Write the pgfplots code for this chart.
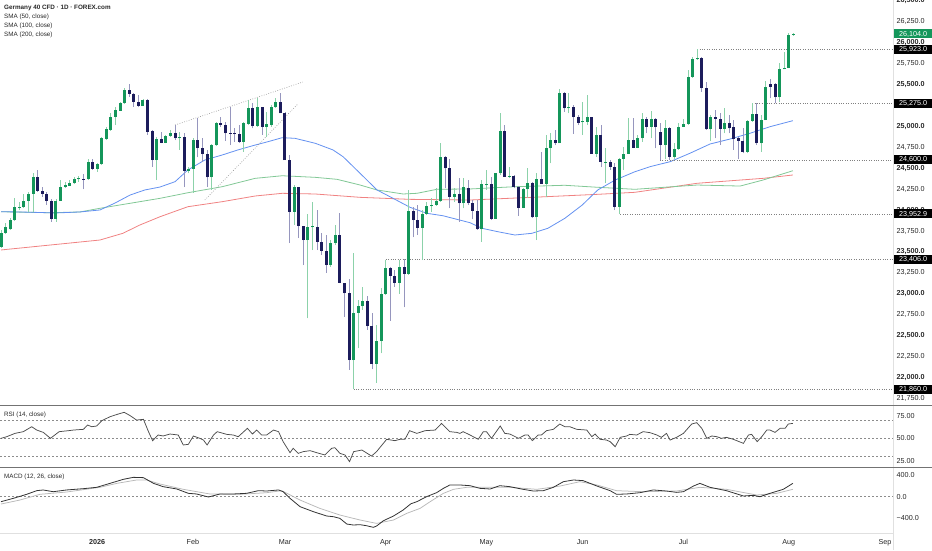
\documentclass[border=0pt]{standalone}
\usepackage{pgfplots}
\pgfplotsset{compat=1.18}
\usepackage{pgfplotstable}
\usepackage{fontspec}
\setmainfont{Liberation Sans}
\definecolor{cgreen}{RGB}{20,150,90}
\definecolor{cnavy}{RGB}{28,28,92}
\definecolor{wgreen}{RGB}{140,210,170}
\definecolor{wnavy}{RGB}{150,150,190}
\definecolor{sblue}{RGB}{100,145,240}
\definecolor{sgreen}{RGB}{130,200,150}
\definecolor{sred}{RGB}{240,130,130}
\definecolor{lbl}{RGB}{40,40,40}
\newcommand{\tf}{\fontsize{7.2}{8.5}\selectfont}
\newcommand{\smf}{\fontsize{6.3}{7.5}\selectfont}

\pgfplotstableread{
i o h l c
0 23562 23762 23546 23729
1 23729 23842 23714 23801
2 23770 23901 23762 23881
3 23881 24140 23869 24040
4 24028 24100 24000 24040
5 24033 24192 24024 24112
6 24112 24216 23980 24192
7 24192 24443 23980 24398
12 23897 24132 23861 24112
13 24112 24359 24108 24279
14 24272 24339 24263 24299
15 24291 24359 24287 24320
16 24320 24391 24311 24367
17 24367 24407 24339 24379
19 24367 24606 24359 24574
21 24494 24562 24458 24554
22 24550 24876 24538 24857
23 24849 24989 24837 24965
24 24957 25163 24945 25115
25 25115 25235 25016 25196
26 25187 25295 25183 25276
27 25276 25455 25267 25435
31 25247 25323 25243 25315
34 24598 24876 24359 24845
36 24805 24897 24798 24885
37 24885 24957 24876 24924
39 24857 24936 24718 24869
41 24467 24518 24439 24490
42 24490 24857 24207 24837
46 24391 24789 24240 24774
47 24774 25056 24765 25037
53 24817 25056 24697 25037
54 25028 25315 25016 25216
56 25004 25335 24992 25235
58 24996 25175 24876 25025
59 25016 25255 24996 25235
60 25228 25335 25219 25288
64 23980 24299 23821 24272
67 23642 23953 22706 23794
68 23794 24100 23522 23809
72 23343 23642 23323 23610
73 23610 23821 23582 23702
77 22208 23490 21860 22773
78 22773 22925 22348 22853
79 22853 23084 22806 22917
82 22160 22626 21937 22435
83 22435 23065 22288 22997
84 22997 23406 22985 23304
87 23132 23403 22997 23316
89 23236 24240 23224 23992
92 23785 24000 23403 23953
93 23953 24100 23941 24048
94 24048 24140 23980 24064
95 24060 24260 24048 24108
96 24108 24798 24100 24637
99 24159 24260 24100 24192
101 24081 24379 24021 24272
105 23770 24359 23622 24308
106 24299 24479 24240 24311
108 23897 24439 23893 24439
109 24439 25156 24419 24945
111 24398 24518 24379 24407
114 24028 24263 24021 24248
115 24248 24499 24140 24320
117 23913 24439 23642 24371
119 24311 24897 24159 24738
120 24738 24917 24559 24837
122 24798 25443 24798 25395
124 25216 25395 25156 25235
127 25049 25295 24897 25064
128 25056 25375 25016 25108
130 24670 24996 24637 24897
132 24566 24738 24320 24578
135 24040 24618 23953 24610
136 24610 24757 24479 24670
137 24670 25096 24670 24837
139 24745 24897 24738 24857
140 24857 25156 24817 25084
142 24996 25187 24857 25084
145 24777 25076 24605 24977
147 24637 24798 24610 24726
148 24726 25037 24718 24996
149 24996 25084 24992 25028
150 25028 25674 25016 25593
151 25593 25825 25578 25801
152 25801 25923 25793 25820
155 24965 25136 24829 25108
158 24972 25216 24917 25037
163 24697 25076 24678 25068
164 25068 25275 25056 25148
166 24798 25136 24697 25076
167 25076 25546 25076 25474
170 25347 25754 25295 25682
171 25682 25892 25682 25701
172 25701 26112 25701 26092
173 26092 26112 26080 26104
}\upc

\pgfplotstableread{
i o h l c
8 24398 24479 24216 24231
9 24231 24279 24159 24192
10 24192 24216 24060 24112
11 24112 24132 23861 23897
18 24371 24431 24248 24363
20 24574 24606 24479 24494
28 25435 25506 25354 25387
29 25387 25395 25235 25295
30 25295 25375 25228 25247
32 25315 25323 24897 24936
33 24945 24957 24518 24598
35 24849 24936 24798 24805
38 24924 25016 24837 24857
40 24876 24917 24275 24467
43 24837 25096 24630 24738
44 24738 24857 24578 24670
45 24670 24718 24279 24391
48 25037 25115 24996 25016
49 25016 25056 24829 24917
50 24924 25235 24777 24912
51 24917 24977 24817 24909
52 24905 25016 24805 24817
55 25216 25276 24977 25004
57 25235 25235 24897 24996
61 25288 25395 25156 25156
62 25163 25175 24598 24598
63 24598 24658 23606 23980
65 24272 24272 23666 23809
66 23809 23809 23343 23642
69 23801 24000 23522 23622
70 23622 23722 23463 23514
71 23514 23702 23251 23343
74 23702 23961 23124 23132
75 23132 23132 22725 23005
76 23005 23172 22089 22208
80 22917 22973 22567 22614
81 22614 22766 22097 22160
85 23304 23323 22678 23212
86 23212 23284 23084 23132
88 23316 23411 22838 23236
90 23992 24040 23674 23881
91 23881 24060 23702 23785
97 24637 24646 24260 24499
98 24499 24606 24021 24159
100 24192 24379 23861 24081
102 24260 24359 24060 24081
103 24081 24120 23889 23992
104 23992 24120 23762 23770
107 24308 24398 23881 23897
110 24945 25016 24398 24398
112 24407 24415 24260 24279
113 24279 24287 23929 24028
116 24320 24339 23901 23913
118 24371 24697 24311 24311
121 24837 24957 24777 24798
123 25395 25414 25175 25216
125 25235 25255 24909 25108
126 25108 25136 25016 25044
129 25108 25108 24670 24670
131 24897 25016 24511 24578
133 24578 24598 24479 24518
134 24518 24559 24000 24040
138 24837 25096 24738 24745
141 25084 25115 24917 24996
143 25084 25096 24738 24989
144 24929 25037 24600 24777
146 24977 24992 24600 24637
153 25820 25832 25414 25455
154 25455 25534 24957 24965
156 25108 25196 24857 25091
157 25091 25156 24777 24972
159 25037 25136 24917 24977
160 24989 25076 24718 24845
161 24861 24876 24606 24829
162 24829 24977 24678 24697
165 25148 25276 24777 24798
168 25506 25562 25335 25474
169 25506 25515 25276 25347
}\dnc

\pgfplotsset{
  panel/.style={
    anchor=south west, scale only axis, width=893pt,
    xmin=-0.22, xmax=194.76, clip=false,
    axis line style={draw=none}, major tick length=0pt,
    xtick=\empty, yticklabel pos=right,
    yticklabel style={font=\tf, text=lbl, anchor=west, xshift=2.5pt, inner sep=1pt},
  },
  hline/.style={black!50, line width=0.6pt, dash pattern=on 0.8pt off 1.6pt, forget plot},
  candle/.style={draw=none, mark=none, forget plot,
    error bars/.cd, y dir=plus, y explicit, error mark=none,
    error bar style={solid, draw=#1}},
}

\begin{document}
\begin{tikzpicture}
\path[use as bounding box] (0pt,0pt) rectangle (932pt,550pt);

% ---------- price panel ----------
\begin{axis}[panel, at={(0pt,144.7pt)}, height=405.3pt,
  ymin=21667, ymax=26510,
  ytick={21750,22000,22250,22500,22750,23000,23250,23500,23750,24000,24250,24500,24750,25000,25500,25750,26000,26250,26500},
  yticklabels={{21,750.0},{\textbf{22,000.0}},{22,250.0},{\textbf{22,500.0}},{22,750.0},{\textbf{23,000.0}},{23,250.0},{\textbf{23,500.0}},{23,750.0},{\textbf{24,000.0}},{24,250.0},{\textbf{24,500.0}},{24,750.0},{\textbf{25,000.0}},{\textbf{25,500.0}},{25,750.0},{\textbf{26,000.0}},{26,250.0},{\textbf{26,500.0}}},
]
% moving averages
\addplot[sred, line width=0.8pt, mark=none] coordinates {
(0,23523) (10.7,23582) (21.6,23642) (26.6,23722) (30.3,23821) (34.7,23920) (40.8,24040) (48.3,24100) (55.5,24168) (61.4,24200) (68.6,24192) (78.4,24152) (89.3,24128) (102.4,24120) (115.9,24152) (130.3,24188) (138.4,24212) (152,24320) (166.4,24379) (172.9,24419)};
\addplot[sgreen, line width=0.8pt, mark=none] coordinates {
(0,23980) (10.7,23968) (17.2,23977) (21.6,24021) (28.2,24081) (34.7,24140) (40.8,24207) (48.3,24279) (55.5,24379) (61.4,24410) (68.6,24391) (73.4,24367) (78.4,24299) (82.1,24240) (87.8,24192) (90.8,24200) (95.2,24248) (102.4,24252) (112.2,24279) (123.1,24296) (130.3,24272) (138.4,24248) (152,24299) (161.4,24287) (166.4,24359) (172.9,24470)};
\addplot[sblue, line width=0.8pt, mark=none] coordinates {
(0,23980) (4.1,23977) (8.5,23971) (11.8,23965) (17.2,23977) (21.6,24001) (24.9,24084) (28.2,24180) (31.4,24240) (34.7,24275) (38,24339) (40.8,24479) (44.5,24598) (48.3,24658) (51.7,24718) (55.5,24777) (58.3,24817) (61.4,24865) (64.2,24857) (68.6,24798) (72.5,24718) (74.7,24637) (78.4,24439) (82.1,24240) (85.6,24140) (89.3,24033) (93,23961) (96.5,23932) (102.4,23849) (105,23782) (108.5,23741) (112.2,23702) (115.9,23722) (119.4,23782) (123.1,23901) (126.9,24060) (130.3,24240) (134.1,24359) (138.4,24458) (141.7,24518) (146.1,24578) (150.4,24678) (154.8,24789) (159.2,24849) (163.5,24917) (167.9,24996) (172.9,25068)};
% trend lines
\addplot[hline, black!40] coordinates {(38,25016) (65.9,25530)};
\addplot[hline, black!40] coordinates {(44.5,24120) (64.8,25267)};
% horizontal levels
\addplot[hline] coordinates {(152,25923) (194.76,25923)};
\addplot[hline] coordinates {(164,25275) (194.76,25275)};
\addplot[hline] coordinates {(143.9,24600) (194.76,24600)};
\addplot[hline] coordinates {(135.2,23952.9) (194.76,23952.9)};
\addplot[hline] coordinates {(84,23406) (194.76,23406)};
\addplot[hline] coordinates {(77,21860) (194.76,21860)};
% wicks
\addplot[candle={wgreen, line width=0.9pt}]
  table[x=i, y=l, y error expr={\thisrow{h}-\thisrow{l}}] {\upc};
\addplot[candle={wnavy, line width=0.9pt}]
  table[x=i, y=l, y error expr={\thisrow{h}-\thisrow{l}}] {\dnc};
% bodies
\addplot[candle={cgreen, line width=3pt}]
  table[x=i, y=o, y error expr={max(\thisrow{c}-\thisrow{o},12)}] {\upc};
\addplot[candle={cnavy, line width=3pt}]
  table[x=i, y=c, y error expr={max(\thisrow{o}-\thisrow{c},12)}] {\dnc};
% price labels
\tikzset{plab/.style={anchor=west, fill=black, text=white, font=\tf, inner sep=0pt, minimum width=38pt, minimum height=9pt, xshift=1pt}}
\node[plab, fill=cgreen] at (axis cs:194.76,26104) {26,104.0};
\node[plab] at (axis cs:194.76,25923) {25,923.0};
\node[plab] at (axis cs:194.76,25275) {25,275.0};
\node[plab] at (axis cs:194.76,24600) {24,600.0};
\node[plab] at (axis cs:194.76,23952.9) {23,952.9};
\node[plab] at (axis cs:194.76,23406) {23,406.0};
\node[plab] at (axis cs:194.76,21860) {21,860.0};
\end{axis}

% ---------- RSI panel ----------
\begin{axis}[panel, at={(0pt,82.7pt)}, height=62pt,
  ymin=17.8, ymax=86.7, ytick={25,50,75}, yticklabels={25.00,50.00,75.00}]
\addplot[hline, black!45, dash pattern=on 2pt off 2pt] coordinates {(-0.22,70) (194.76,70)};
\addplot[hline, black!45, dash pattern=on 2pt off 2pt] coordinates {(-0.22,50) (194.76,50)};
\addplot[hline, black!45, dash pattern=on 2pt off 2pt] coordinates {(-0.22,30) (194.76,30)};
\addplot[black!70, line width=0.75pt, mark=none] coordinates {
(0,50.0) (1.24,51.8) (3.05,55.5) (4.87,57.4) (6.7,62.9) (7.8,59.2) (9.24,56.6) (10.8,50.0) (12.7,57.4) (14.7,58.5) (15.8,59.2) (18,60.0) (18.9,64.8) (19.8,62.9) (20.9,63.7) (22,69.6) (23.8,74.0) (25.6,77.0) (26.9,78.9) (28.2,75.2) (29.6,70.3) (31.1,71.1) (32.2,57.4) (33.1,47.4) (34.3,53.7) (35.4,52.6) (36.9,54.8) (38.7,53.7) (39.8,42.6) (40.9,43.3) (42,52.6) (43.4,50.0) (44.2,48.1) (45,42.6) (46.4,53.7) (47.2,57.4) (49.3,54.4) (50.7,53.7) (51.8,51.8) (53.8,61.1) (54.9,54.8) (55.8,59.2) (56.9,53.7) (58,53.7) (59.5,59.2) (60.6,57.4) (61.6,46.3) (63.1,34.1) (63.8,38.9) (64.9,33.3) (66,35.2) (67.5,36.3) (68.9,34.1) (70.7,31.5) (72.2,38.9) (72.9,39.6) (74,33.3) (75.1,31.5) (76.1,24.1) (77,35.2) (78.8,37.0) (80.9,30.3) (82,35.2) (84.2,48.9) (86,47.4) (87.1,48.9) (88.2,48.9) (89.2,58.5) (90.8,55.5) (92.6,58.5) (94.8,59.2) (96.2,66.6) (98,57.4) (99.5,56.6) (100.2,55.5) (100.9,57.4) (102.4,53.7) (104.2,48.9) (105.3,57.4) (106,57.4) (107.1,50.0) (109,63.7) (110,55.5) (111.1,54.8) (113,50.0) (114.4,53.7) (115.1,53.7) (116,47.4) (117.3,53.7) (118,53.7) (119.1,58.5) (120.6,60.0) (122,65.9) (123.1,62.9) (124.2,62.9) (125.7,60.0) (127.9,59.2) (129,51.8) (129.7,54.8) (130.8,48.9) (132.2,48.1) (133,46.3) (134.1,40.7) (135.2,51.1) (136.6,52.6) (137.3,54.4) (138.8,53.7) (140.2,57.4) (141.7,56.3) (143.2,53.7) (144.2,51.1) (145.3,55.5) (146.1,48.1) (147.5,51.1) (149,55.5) (150.8,65.9) (151.9,67.4) (153,61.1) (154.1,50.0) (155.2,52.6) (156.3,51.8) (157.3,50.0) (158.4,51.1) (159.9,48.9) (162.1,44.4) (163.2,53.7) (163.9,54.4) (165.1,46.3) (166.1,51.8) (167.2,59.2) (167.9,59.2) (169,56.6) (170.1,61.1) (171.2,61.1) (171.9,65.9) (172.9,66.6)};
\end{axis}

% ---------- MACD panel ----------
\begin{axis}[panel, at={(0pt,16.7pt)}, height=66pt,
  ymin=-675, ymax=542, ytick={-400,0,400}, yticklabels={−400.0,0.0,400.0},
  xtick={21,41.9,62,84,106,127,149,172,193},
  xticklabels={\textbf{2026},Feb,Mar,Apr,May,Jun,Jul,Aug,Sep},
  xticklabel style={font=\tf, text=lbl, yshift=-2.5pt}]
\addplot[hline, black!45, dash pattern=on 2pt off 2pt] coordinates {(-0.22,0) (194.76,0)};
\addplot[black!28, line width=0.75pt, mark=none] coordinates {
(0,-135) (4.1,-62) (8.5,44) (14.3,86) (21.6,173) (25.3,246) (29.6,308) (31.8,308) (34.7,234) (39.8,136) (45.6,50) (52.2,44) (58,74) (61.3,111) (65.3,-62) (69.6,-215) (74,-338) (78.4,-430) (82,-492) (85.7,-430) (88.6,-307) (91.5,-215) (93.7,-92) (96.6,62) (98.8,136) (101.7,173) (105.3,173) (111.1,173) (117,136) (122.1,197) (126.4,277) (130.1,216) (134.4,111) (140.2,92) (147.5,105) (152.6,173) (158.4,136) (165,31) (169.4,62) (172.9,136)};
\addplot[black!80, line width=0.8pt, mark=none] coordinates {
(0,-92) (2.7,-30) (5.6,44) (7.8,111) (9.2,124) (11.4,92) (14.3,124) (18,148) (20.9,173) (23.8,246) (26.7,320) (28.9,357) (31.1,351) (33.3,246) (35.4,185) (38.4,142) (40.9,62) (42.7,50) (45.3,-6) (47.8,50) (50.7,50) (53.6,62) (56.2,111) (58,105) (60.6,124) (61.6,92) (63.1,-30) (65.3,-184) (68.2,-276) (71.1,-356) (72.6,-369) (74,-400) (75.5,-504) (76.9,-522) (78.4,-516) (79.8,-535) (81.3,-565) (82,-541) (83.5,-443) (85.7,-356) (87.8,-246) (89.5,-130) (90.8,-92) (92.9,0) (95.1,74) (96.6,154) (98,216) (100.2,216) (102.4,203) (104.6,154) (106.8,142) (108.9,203) (111.1,185) (114,136) (116.2,105) (118.4,111) (120.6,173) (122.8,277) (125,308) (127.1,296) (130.1,197) (133,111) (134.4,44) (136.6,50) (139.5,74) (142.4,124) (145.3,105) (147.5,80) (149,92) (151.2,197) (152.6,246) (154.8,173) (158.4,111) (162.1,13) (164.3,25) (165.7,0) (167.9,62) (170.8,136) (172.9,246)};
\end{axis}

% ---------- frame lines and titles ----------
\draw[black!12, line width=0.6pt] (893pt,0pt) -- (893pt,550pt);
\draw[black!12, line width=0.6pt] (0pt,16.7pt) -- (893pt,16.7pt);
\draw[black!55, line width=1.1pt] (0pt,144.7pt) -- (932pt,144.7pt);
\draw[black!55, line width=1.1pt] (0pt,82.7pt) -- (932pt,82.7pt);
\node[anchor=west, font=\smf\bfseries, text=lbl, inner sep=0pt] at (4pt,542pt) {Germany 40 CFD · 1D · FOREX.com};
\node[anchor=west, font=\smf, text=lbl, inner sep=0pt] at (4pt,533pt) {SMA (50, close)};
\node[anchor=west, font=\smf, text=lbl, inner sep=0pt] at (4pt,524pt) {SMA (100, close)};
\node[anchor=west, font=\smf, text=lbl, inner sep=0pt] at (4pt,515pt) {SMA (200, close)};
\node[anchor=west, font=\smf, text=lbl, inner sep=0pt] at (4pt,135.5pt) {RSI (14, close)};
\node[anchor=west, font=\smf, text=lbl, inner sep=0pt] at (4pt,73pt) {MACD (12, 26, close)};
\end{tikzpicture}
\end{document}
